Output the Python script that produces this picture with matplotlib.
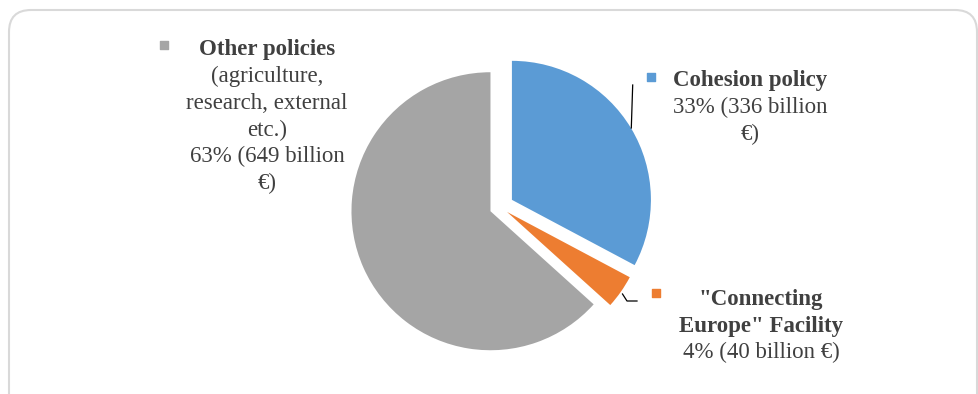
import matplotlib
matplotlib.use("Agg")
import matplotlib.pyplot as plt
from matplotlib.patches import FancyBboxPatch

# data
names = ["Cohesion policy", '"Connecting Europe" Facility', "Other policies"]
amounts = [336, 40, 649]          # billion EUR
shares = [33, 4, 63]              # percent as printed
colors = ["#5B9BD5", "#ED7D31", "#A5A5A5"]
explode = [0.10, 0.062, 0.075]    # fraction of radius

W, H = 979, 394
R = 139
plt.rcParams['font.family'] = ['Liberation Serif', 'DejaVu Serif']
txt = "#404040"

fig = plt.figure(figsize=(W / 100, H / 100), dpi=100)
ax = fig.add_axes([0, 0, 1, 1])
ax.set_xlim(0, W)
ax.set_ylim(0, H)
ax.set_aspect('equal')
ax.axis('off')

# chart area border (rounded, runs off the bottom/right)
box = FancyBboxPatch((9, -30), 968, 414, boxstyle="round,pad=0,rounding_size=22",
                     fc="none", ec="#D9D9D9", lw=1.5)
ax.add_patch(box)

# pie explode is in data units, so scale by the radius
ax.pie(amounts, colors=colors, explode=[e * R for e in explode], startangle=90,
       counterclock=False, center=(500, H - 207), radius=R,
       wedgeprops=dict(linewidth=0))
ax.set_xlim(0, W)
ax.set_ylim(0, H)


def y(py):
    return H - py


fs = 16.5
# Other policies label
ax.scatter([164], [y(45)], marker='s', s=30, color=colors[2], zorder=5)
ax.text(267, y(55), "Other policies", ha='center', va='baseline', fontsize=fs,
        fontweight='bold', color=txt)
other_lines = ["(agriculture,", "research, external", "etc.)",
               "%d%% (%d billion" % (shares[2], amounts[2]), "€)"]
for i, s in enumerate(other_lines):
    ax.text(267, y(82 + i * 26.8), s, ha='center', va='baseline', fontsize=fs, color=txt)

# Cohesion label
ax.scatter([651], [y(77)], marker='s', s=33, color=colors[0], zorder=5)
ax.text(750, y(86), "Cohesion policy", ha='center', va='baseline', fontsize=fs,
        fontweight='bold', color=txt)
ax.text(750, y(113), "%d%% (%d billion" % (shares[0], amounts[0]), ha='center',
        va='baseline', fontsize=fs, color=txt)
ax.text(750, y(140), "€)", ha='center', va='baseline', fontsize=fs, color=txt)
ax.plot([632.7, 631.3], [y(85), y(128)], color='black', lw=0.9)

# CEF label
ax.scatter([656], [y(293)], marker='s', s=33, color=colors[1], zorder=5)
ax.text(761, y(305), '"Connecting', ha='center', va='baseline', fontsize=fs,
        fontweight='bold', color=txt)
ax.text(761, y(331.7), 'Europe" Facility', ha='center', va='baseline', fontsize=fs,
        fontweight='bold', color=txt)
ax.text(761, y(357.7), "%d%% (%d billion €)" % (shares[1], amounts[1]), ha='center',
        va='baseline', fontsize=fs, color=txt)
ax.plot([622.5, 627, 637], [y(294), y(301), y(301)], color='black', lw=0.9)

fig.savefig("out.png", dpi=100, facecolor='white')
